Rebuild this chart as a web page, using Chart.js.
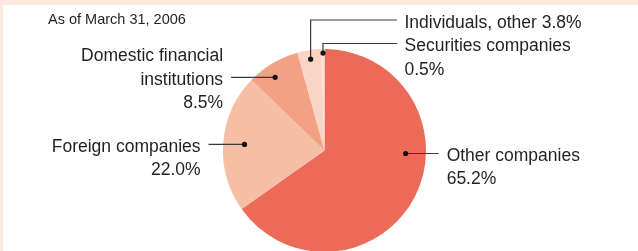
<!DOCTYPE html>
<html>
<head>
<meta charset="utf-8">
<script src="https://cdn.jsdelivr.net/npm/chart.js@4"></script>
<style>
	html, body { margin: 0; padding: 0; overflow: hidden; }
	body { width: 638px; height: 251px; background: #fde9e1; position: relative; }
	#panel { position: absolute; left: 3px; top: 5px; width: 635px; height: 246px; background: #fff; }
	#wrap { position: absolute; left: 0; top: 0; width: 638px; height: 262px; }
</style>
</head>
<body>
<div id="panel"></div>
<div id="wrap"><canvas id="pieChart"></canvas></div>
<script>
// Shareholders as of March 31, 2006
const categories = ['Other companies', 'Foreign companies', ['Domestic financial', 'institutions'], 'Individuals, other', 'Securities companies'];
const shares = [65.2, 22.0, 8.5, 3.8, 0.5];
const sliceColors = ['#eb6b58', '#f6bea4', '#f3a184', '#fad4c4', '#fbe0d5'];

// leader line setup per slice (dot radius fraction, optional angle in degrees from top)
const leaders = [
	{ dir: 'right', r: 0.80, angle: 92.1, len: 33 },
	{ dir: 'left', r: 0.79, len: 36 },
	{ dir: 'left', r: 0.87, angle: 326, len: 44, anchor: 1 },
	{ dir: 'up', r: 0.91, topY: 20, endX: 397, inline: true },
	{ dir: 'up', r: 0.96, topY: 43.5, endX: 397 }
];

const textColor = '#231f20';
const labelFont = '17.5px "Liberation Sans", Arial, sans-serif';

const labelPlugin = {
	id: 'leaderLabels',
	afterDraw(chart) {
		const ctx = chart.ctx;
		const arcs = chart.getDatasetMeta(0).data;
		ctx.save();
		ctx.fillStyle = textColor;
		ctx.font = '14.5px "Liberation Sans", Arial, sans-serif';
		ctx.textBaseline = 'alphabetic';
		ctx.textAlign = 'left';
		ctx.fillText('As of March 31, 2006', 48, 24);

		arcs.forEach((arc, i) => {
			const p = arc.getProps(['x', 'y', 'startAngle', 'endAngle', 'outerRadius'], true);
			const cfg = leaders[i];
			// chart.js angles start at -PI/2 (top)
			const a = cfg.angle !== undefined ? (cfg.angle * Math.PI / 180 - Math.PI / 2) : (p.startAngle + p.endAngle) / 2;
			const dx = p.x + Math.cos(a) * p.outerRadius * cfg.r;
			const dy = p.y + Math.sin(a) * p.outerRadius * cfg.r;

			let name = categories[i];
			let lines = Array.isArray(name) ? name.slice() : [name];
			const pct = shares[i].toFixed(1) + '%';
			if (cfg.inline) lines[lines.length - 1] += ' ' + pct;
			else lines.push(pct);

			ctx.strokeStyle = '#3a3a3a';
			ctx.lineWidth = 1.2;
			ctx.beginPath();
			let tx, lineY, align;
			if (cfg.dir === 'up') {
				ctx.moveTo(dx, dy);
				ctx.lineTo(dx, cfg.topY);
				ctx.lineTo(cfg.endX, cfg.topY);
				tx = cfg.endX + 7.5; lineY = cfg.topY; align = 'left';
			} else if (cfg.dir === 'right') {
				ctx.moveTo(dx, dy);
				ctx.lineTo(dx + cfg.len, dy);
				tx = dx + cfg.len + 8; lineY = dy; align = 'left';
			} else {
				ctx.moveTo(dx, dy);
				ctx.lineTo(dx - cfg.len, dy);
				tx = dx - cfg.len - 8; lineY = dy; align = 'right';
			}
			ctx.stroke();

			ctx.fillStyle = '#111';
			ctx.beginPath();
			ctx.arc(dx, dy, 2.6, 0, Math.PI * 2);
			ctx.fill();

			ctx.fillStyle = textColor;
			ctx.font = labelFont;
			ctx.textAlign = align;
			const anchor = cfg.anchor || 0;
			lines.forEach((t, k) => {
				ctx.fillText(t, tx, lineY + 7.5 + (k - anchor) * 23.5);
			});
		});
		ctx.restore();
	}
};

const pieCtx = document.getElementById('pieChart').getContext('2d');
const pieChart = new Chart(pieCtx, {
	type: 'pie',
	data: {
		labels: categories.map(c => Array.isArray(c) ? c.join(' ') : c),
		datasets: [{
			data: shares,
			backgroundColor: sliceColors,
			borderWidth: 0
		}]
	},
	options: {
		responsive: true,
		maintainAspectRatio: false,
		animation: false,
		layout: { padding: { left: 223, right: 212, top: 49, bottom: 10 } },
		plugins: {
			legend: { display: false },
			tooltip: { enabled: false }
		}
	},
	plugins: [labelPlugin]
});
</script>
</body>
</html>
